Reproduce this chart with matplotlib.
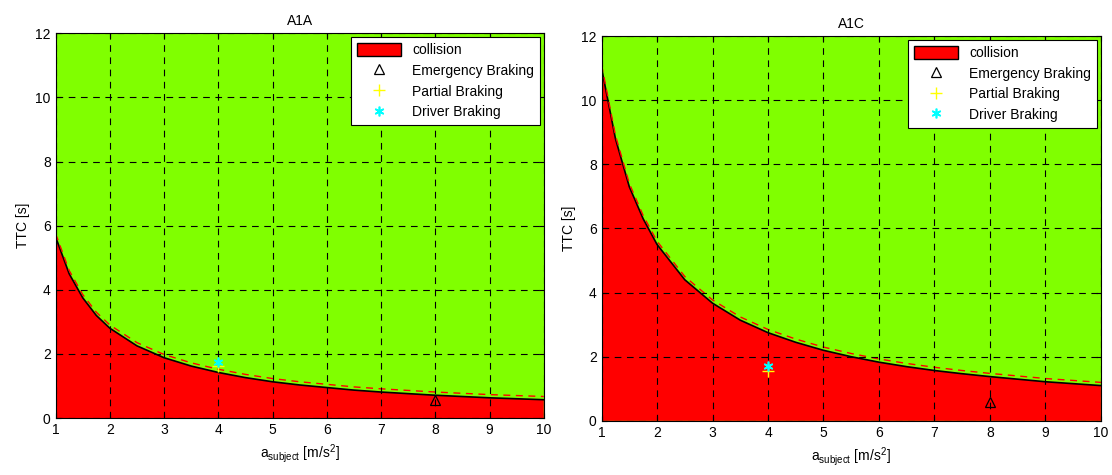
### Collision regions for A1A and A1C scenarios

import matplotlib.pyplot as plt

plt.rcParams['font.family'] = ['Liberation Sans', 'DejaVu Sans']
plt.rcParams['mathtext.fontset'] = 'custom'
plt.rcParams['mathtext.rm'] = 'Liberation Sans'

a = [1, 1.25, 1.5, 1.75, 2, 2.5, 3, 3.5, 4, 4.5, 5, 5.5, 6, 6.5, 7, 7.5, 8, 8.5, 9, 9.5, 10]

# boundary of collision region (black) and dashed red estimate
ttc_a1a = [5.65, 4.5, 3.75, 3.2, 2.8, 2.25, 1.88, 1.62, 1.42, 1.26, 1.13, 1.03, 0.95, 0.87,
           0.81, 0.76, 0.71, 0.67, 0.63, 0.60, 0.57]
est_a1a = [5.75, 4.6, 3.85, 3.3, 2.9, 2.35, 1.98, 1.72, 1.52, 1.36, 1.23, 1.13, 1.05, 0.97,
           0.91, 0.86, 0.81, 0.77, 0.73, 0.70, 0.67]
ttc_a1c = [11.0, 8.8, 7.3, 6.3, 5.5, 4.4, 3.67, 3.14, 2.75, 2.45, 2.2, 2.0, 1.83, 1.69,
           1.57, 1.47, 1.38, 1.30, 1.22, 1.16, 1.1]
est_a1c = [11.1, 8.9, 7.4, 6.4, 5.6, 4.5, 3.77, 3.24, 2.85, 2.55, 2.3, 2.1, 1.93, 1.79,
           1.67, 1.57, 1.48, 1.40, 1.32, 1.26, 1.2]

# braking points (a_subject, TTC)
emergency = {'A1A': (8, 0.56), 'A1C': (8, 0.6)}
partial = {'A1A': (4, 1.62), 'A1C': (4, 1.56)}
driver = {'A1A': (4, 1.75), 'A1C': (4, 1.72)}

fig = plt.figure(figsize=(11.12, 4.75), dpi=100)
ax1 = fig.add_axes([0.050, 0.120, 0.439, 0.810])
ax2 = fig.add_axes([0.541, 0.114, 0.449, 0.810])

for ax, name, ttc, est in [(ax1, 'A1A', ttc_a1a, est_a1a), (ax2, 'A1C', ttc_a1c, est_a1c)]:
    ax.set_facecolor('#80ff00')
    ax.fill_between(a, 0, ttc, color='#ff0000', edgecolor='none', label='collision', zorder=1)
    ax.plot(a, ttc, color='black', lw=1.2, zorder=2)
    ax.plot(a, est, color='#ff0000', lw=1, ls=(0, (5, 4)), zorder=2)
    ax.plot(*emergency[name], marker='^', ms=7, mfc='none', mec='black', mew=0.9, ls='none',
            label='Emergency Braking', zorder=4)
    ax.plot(*partial[name], marker='+', ms=8, mec='#ffff00', ls='none',
            label='Partial Braking', zorder=4)
    ax.plot(*driver[name], marker=(6, 2, 0), ms=7, mec='#00ffff', mew=1.2, ls='none',
            label='Driver Braking', zorder=4)
    ax.set_xlim(1, 10)
    ax.set_ylim(0, 12)
    ax.set_xticks(range(1, 11))
    ax.set_yticks(range(0, 13, 2))
    ax.grid(True, color='black', ls=(0, (6, 5)), lw=0.8)
    ax.set_axisbelow(False)
    ax.tick_params(direction='in', labelsize=10, top=True, right=True)
    ax.set_title(name, fontsize=10)
    ax.set_ylabel('TTC [s]', fontsize=10)
    ax.set_xlabel(r'a$_{\rm subject}$ [m/s$^2$]', fontsize=10)
    h, l = ax.get_legend_handles_labels()
    leg = ax.legend(h, l, loc='upper right', fontsize=10, fancybox=False, framealpha=1,
                    edgecolor='black', borderaxespad=0.3, handlelength=3.2,
                    handleheight=1.1, labelspacing=0.45)
    leg.legend_handles[0].set_edgecolor('black')
    leg.get_frame().set_linewidth(0.8)

plt.savefig('out.png')
